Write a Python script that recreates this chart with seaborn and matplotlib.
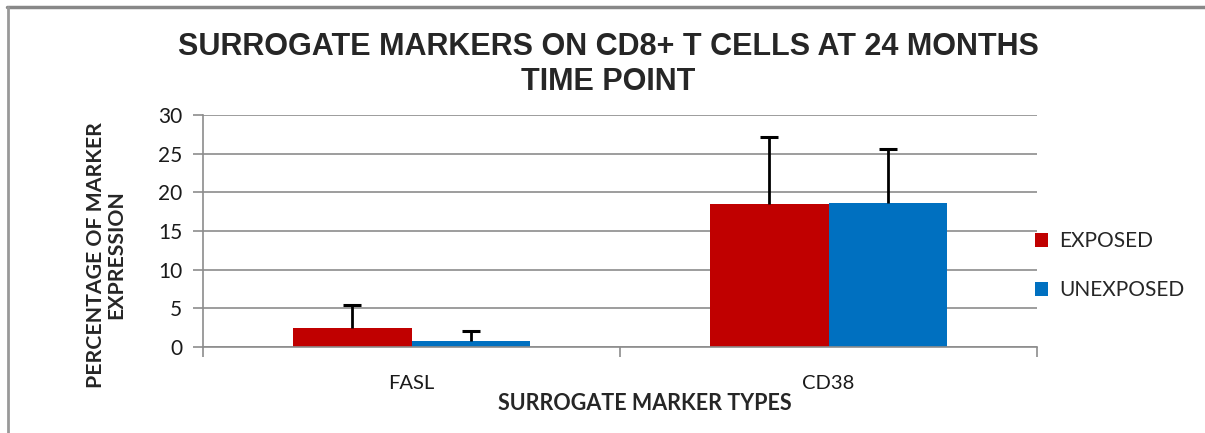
import matplotlib
matplotlib.use("Agg")
import matplotlib.pyplot as plt
from matplotlib.lines import Line2D
from matplotlib.ticker import FixedLocator, NullFormatter
import numpy as np
import pandas as pd
import seaborn as sns

# Marker expression (%) at the 24-month time point
markers = ["FASL", "CD38"]
groups = ["EXPOSED", "UNEXPOSED"]
exposed_mean = [2.4, 18.5]
unexposed_mean = [0.8, 18.6]
exposed_sd = [3.0, 8.7]
unexposed_sd = [1.3, 7.0]
y_ticks = [0, 5, 10, 15, 20, 25, 30]

colors = {"EXPOSED": "#C00000", "UNEXPOSED": "#0070C0"}

df = pd.DataFrame({
    "marker": markers * 2,
    "group": [groups[0]] * 2 + [groups[1]] * 2,
    "value": exposed_mean + unexposed_mean,
    "sd": exposed_sd + unexposed_sd,
})

sns.set_style("white")
label_font = ["Lato", "DejaVu Sans"]
title_font = ["Liberation Sans Narrow", "Liberation Sans", "DejaVu Sans"]

fig = plt.figure(figsize=(12.05, 4.33), dpi=100)
ax = fig.add_axes([0.1685, 0.1986, 0.8606 - 0.1685, 0.7344 - 0.1986])

sns.barplot(data=df, x="marker", y="value", hue="group", order=markers,
            hue_order=groups, palette=colors, width=0.57, errorbar=None,
            saturation=1, linewidth=0, ax=ax, zorder=2)

# upward-only error bars: stem from bar top plus a cap at mean + sd
for container, grp in zip(ax.containers, groups):
    sub = df[df["group"] == grp].set_index("marker").loc[markers]
    xs = np.array([p.get_x() + p.get_width() / 2 for p in container.patches])
    tops = sub["value"].values + sub["sd"].values
    ax.vlines(xs, sub["value"].values, tops, color="black", linewidth=2.0,
              zorder=3)
    ax.plot(xs, tops, linestyle="none", marker="_", markersize=13,
            markeredgewidth=2.2, color="black", zorder=3)

ax.set_xlim(-0.5, 1.5)
ax.set_ylim(0, 30)
ax.set_yticks(y_ticks)
ax.yaxis.grid(True, color="#8c8c8c", linewidth=1.2, zorder=0)
ax.set_axisbelow(True)

for side in ["top", "right"]:
    ax.spines[side].set_visible(False)
for side in ["left", "bottom"]:
    ax.spines[side].set_color("#8c8c8c")
    ax.spines[side].set_linewidth(1.2)

ax.tick_params(axis="y", which="major", length=7, width=1.2, color="#8c8c8c",
               direction="out", left=True, labelsize=15, pad=8)
ax.tick_params(axis="x", which="major", length=0, labelsize=14.5, pad=20)
ax.xaxis.set_minor_locator(FixedLocator([-0.5, 0.5, 1.5]))
ax.xaxis.set_minor_formatter(NullFormatter())
ax.tick_params(axis="x", which="minor", length=7, width=1.2,
               color="#8c8c8c", direction="out", bottom=True)
for lbl in ax.get_xticklabels() + ax.get_yticklabels():
    lbl.set_family(label_font)
    lbl.set_color("#1a1a1a")

ax.set_xlabel("SURROGATE MARKER TYPES", family=label_font, fontsize=15.5,
              fontweight="bold")
ax.xaxis.set_label_coords(0.53, -0.2)
ax.set_ylabel("PERCENTAGE OF MARKER\nEXPRESSION", family=label_font,
              fontsize=15.3, fontweight="bold", linespacing=1.05)
ax.yaxis.set_label_coords(-0.092, 0.397)

fig.suptitle("SURROGATE MARKERS ON CD8+ T CELLS AT 24 MONTHS\nTIME POINT",
             x=0.505, y=0.925, family=title_font, fontsize=22,
             fontweight="bold", linespacing=1.2)

leg = ax.legend(loc="center left", bbox_to_anchor=(0.975, 0.35), frameon=False,
                prop={"family": label_font, "size": 15}, handlelength=0.65,
                handleheight=0.65, handletextpad=0.5, labelspacing=1.4)

# chart frame lines along the top and left edges
fig.add_artist(Line2D([7 / 1205, 1.0], [1 - 7 / 433, 1 - 7 / 433],
                      color="#888888", linewidth=2.5, transform=fig.transFigure))
fig.add_artist(Line2D([8 / 1205, 8 / 1205], [0, 1 - 7 / 433],
                      color="#999999", linewidth=2.0, transform=fig.transFigure))

fig.savefig("out.png", dpi=100, facecolor="white")
